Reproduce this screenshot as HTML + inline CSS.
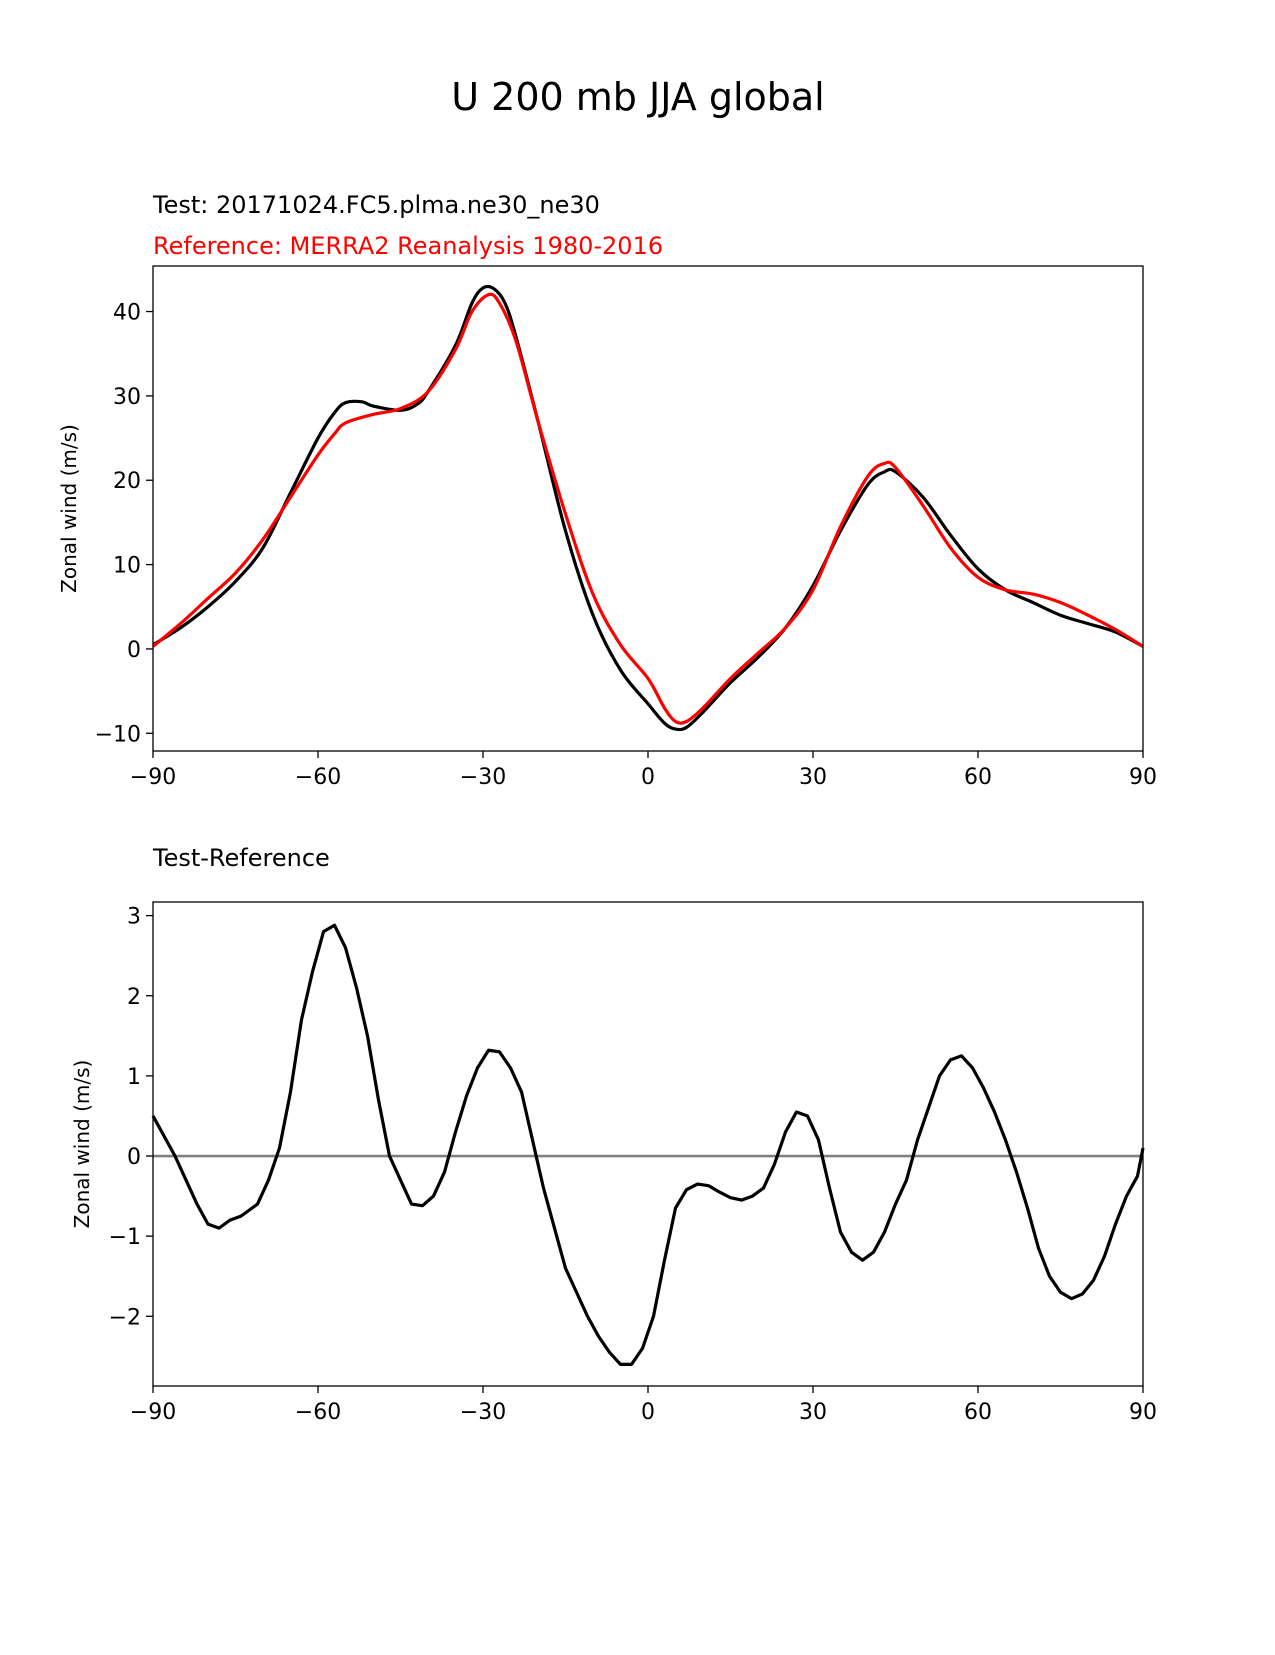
<!DOCTYPE html>
<html><head><meta charset="utf-8"><style>
body{margin:0;background:#fff;}
svg text{font-family:"DejaVu Sans","Liberation Sans",sans-serif;}
</style></head><body>
<svg id="c" width="1275" height="1650" xmlns="http://www.w3.org/2000/svg">
<text x="638" y="110" font-size="38" text-anchor="middle">U 200 mb JJA global</text>
<text x="153" y="213" font-size="24">Test: 20171024.FC5.plma.ne30_ne30</text>
<text x="153" y="254" font-size="24" fill="#ff0000">Reference: MERRA2 Reanalysis 1980-2016</text>
<text x="153" y="866" font-size="24">Test-Reference</text>
<g id="g1"></g>
<g id="g2"></g>
</svg>
<script>
const xTicks=[-90,-60,-30,0,30,60,90];
const topTicks=[-10,0,10,20,30,40];
const botTicks=[-2,-1,0,1,2,3];
const testLat=[-90,-85,-80,-75,-70,-65,-60,-57,-55,-52,-50,-45,-42,-40,-35,-32,-30,-28,-26,-24,-20,-15,-10,-5,0,3,5,7,10,15,20,25,30,35,40,43,45,50,55,60,65,70,75,80,85,90];
const testVal=[0.5,2.5,5,8,12,18.5,25,28,29.2,29.3,28.8,28.3,29,30.5,36,41,42.8,42.7,41,37,27,14,4,-2.5,-6.5,-8.8,-9.5,-9.3,-7.5,-4,-1,2.5,7.5,14,19.5,21,21,18,13.5,9.5,7,5.5,4,3,2,0.3];
const refLat=[-90,-85,-80,-75,-70,-65,-60,-57,-55,-50,-45,-40,-35,-32,-29,-27,-24,-20,-15,-10,-5,0,3,5,7,10,15,20,25,30,35,40,43,45,50,55,60,65,70,75,80,85,90];
const refVal=[0.3,3,6,9,13,18,23,25.5,26.8,27.8,28.5,30.5,35.5,40,42,41,36.5,27,16,6.5,0.5,-3.5,-7,-8.6,-8.6,-7,-3.5,-0.5,2.5,7,14.5,20.5,22,21.5,17,12,8.5,7,6.5,5.5,4,2.3,0.3];
const diffLat=[-90,-86,-84,-82,-80,-78,-76,-74,-71,-69,-67,-65,-63,-61,-59,-57,-55,-53,-51,-49,-47,-45,-43,-41,-39,-37,-35,-33,-31,-29,-27,-25,-23,-21,-19,-17,-15,-13,-11,-9,-7,-5,-3,-1,1,3,5,7,9,11,13,15,17,19,21,23,25,27,29,31,33,35,37,39,41,43,45,47,49,51,53,55,57,59,61,63,65,67,69,71,73,75,77,79,81,83,85,87,89,90];
const diffVal=[0.5,0,-0.3,-0.6,-0.85,-0.9,-0.8,-0.75,-0.6,-0.3,0.1,0.8,1.7,2.3,2.8,2.88,2.6,2.1,1.5,0.7,0,-0.3,-0.6,-0.62,-0.5,-0.2,0.3,0.75,1.1,1.32,1.3,1.1,0.8,0.2,-0.4,-0.9,-1.4,-1.7,-2.0,-2.25,-2.45,-2.6,-2.6,-2.4,-2.0,-1.3,-0.65,-0.42,-0.35,-0.37,-0.45,-0.52,-0.55,-0.5,-0.4,-0.1,0.3,0.55,0.5,0.2,-0.4,-0.95,-1.2,-1.3,-1.2,-0.95,-0.6,-0.3,0.2,0.6,1.0,1.2,1.25,1.1,0.85,0.55,0.2,-0.2,-0.65,-1.15,-1.5,-1.7,-1.78,-1.72,-1.55,-1.25,-0.85,-0.5,-0.25,0.1,0.25];
const NS="http://www.w3.org/2000/svg";
function mk(p,t,a){const e=document.createElementNS(NS,t);for(const k in a)e.setAttribute(k,a[k]);p.appendChild(e);return e;}
const L=153,R=1143;
const X=v=>L+(v+90)/180*(R-L);
function smooth(xs,ys,sx,sy){let pts=xs.map((x,i)=>[sx(x),sy(ys[i])]);let d="M"+pts[0][0]+","+pts[0][1];for(let i=0;i<pts.length-1;i++){const p0=pts[i-1]||pts[i],p1=pts[i],p2=pts[i+1],p3=pts[i+2]||p2;d+=" C"+(p1[0]+(p2[0]-p0[0])/6)+","+(p1[1]+(p2[1]-p0[1])/6)+" "+(p2[0]-(p3[0]-p1[0])/6)+","+(p2[1]-(p3[1]-p1[1])/6)+" "+p2[0]+","+p2[1];}return d;}
function axes(g,top,bot,ymin,ymax,yt,ylab){
  const Y=v=>bot-(v-ymin)/(ymax-ymin)*(bot-top);
  xTicks.forEach(t=>{const l=mk(g,'line',{x1:X(t),x2:X(t),y1:bot,y2:bot+7,stroke:'#000','stroke-width':1.3});
    
    const tx=mk(g,'text',{x:X(t),y:bot+33,'font-size':22,'text-anchor':'middle'});tx.textContent=(t<0?'\u2212'+(-t):t);
    });
  yt.forEach(t=>{const l=mk(g,'line',{x1:L-7,x2:L,y1:Y(t),y2:Y(t),stroke:'#000','stroke-width':1.3});
    
    const tx=mk(g,'text',{x:L-12,y:Y(t)+8,'font-size':22,'text-anchor':'end'});tx.textContent=(t<0?'\u2212'+(-t):t);
    });
  const yl=mk(g,'text',{x:0,y:0,'font-size':20,'text-anchor':'middle',transform:`translate(${ylab},${(top+bot)/2}) rotate(-90)`});yl.textContent='Zonal wind (m/s)';
  
  return Y;
}
const g1=document.getElementById('g1'),g2=document.getElementById('g2');
const Y1=axes(g1,266,751,-12.1,45.4,topTicks,76);
let p=mk(g1,'path',{d:smooth(testLat,testVal,X,Y1),fill:'none',stroke:'#000','stroke-width':3.2});

p=mk(g1,'path',{d:smooth(refLat,refVal,X,Y1),fill:'none',stroke:'#ff0000','stroke-width':3.2});

let f=mk(g1,'rect',{x:L,y:266,width:R-L,height:485,fill:'none',stroke:'#000','stroke-width':1.3});

const Y2=axes(g2,902,1386,-2.87,3.17,botTicks,89);
let z=mk(g2,'line',{x1:L,x2:R,y1:Y2(0),y2:Y2(0),stroke:'#808080','stroke-width':2.6});

p=mk(g2,'polyline',{points:diffLat.map((x,i)=>X(x)+','+Y2(diffVal[i])).join(' '),fill:'none',stroke:'#000','stroke-width':3.2,'stroke-linejoin':'round'});

f=mk(g2,'rect',{x:L,y:902,width:R-L,height:484,fill:'none',stroke:'#000','stroke-width':1.3});

</script>
</body></html>
